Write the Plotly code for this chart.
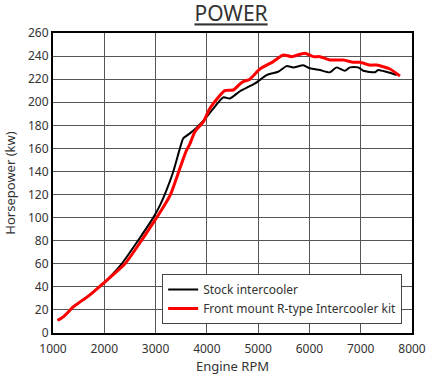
import plotly.graph_objects as go

rpm_stock = [1090, 1200, 1400, 1530, 1690, 1980, 2340, 2657, 2955, 3090, 3215, 3346, 3475, 3540, 3670, 3800, 3930, 4130, 4320, 4450, 4645, 4940, 5165, 5390, 5555, 5685, 5880, 6010, 6205, 6400, 6530, 6690, 6790, 6950, 7050, 7280, 7340, 7500, 7700]
kw_stock = [11, 14, 22.8, 27, 32, 43, 60, 80, 100, 111, 124, 140, 160, 168.7, 173, 178, 183.7, 194.7, 204.2, 203.3, 209.5, 216.3, 223.5, 226.4, 231.3, 230.2, 232, 229.4, 227.9, 225.9, 230.2, 227.3, 230.2, 230.2, 227.3, 226, 228, 226.4, 223.5]

rpm_front = [1090, 1200, 1400, 1530, 1690, 1980, 2403, 2723, 3020, 3150, 3290, 3430, 3590, 3670, 3768, 3930, 4060, 4350, 4515, 4645, 4710, 4840, 5035, 5295, 5490, 5650, 5910, 6075, 6205, 6400, 6660, 6855, 6985, 7180, 7310, 7570, 7765]
kw_front = [11, 14, 22.8, 27, 32, 43, 60, 80, 100, 109, 120, 137, 157, 164, 174.5, 183, 194.7, 210, 210.6, 215.8, 217.8, 220, 228.8, 235.2, 241, 239.5, 242.5, 239.5, 239.5, 236.6, 236.6, 234.6, 234.6, 232.2, 232.2, 228.8, 222.7]

x_ticks = [1000, 2000, 3000, 4000, 5000, 6000, 7000, 8000]
y_ticks = list(range(0, 261, 20))

FONT = "Noto Sans"

fig = go.Figure()
fig.add_trace(go.Scatter(x=rpm_stock, y=kw_stock, mode="lines", name="Stock intercooler",
                         line=dict(color="black", width=2, shape="spline", smoothing=0.6)))
fig.add_trace(go.Scatter(x=rpm_front, y=kw_front, mode="lines", name="Front mount R-type Intercooler kit",
                         line=dict(color="#ff0000", width=3, shape="spline", smoothing=0.6)))

fig.update_layout(
    width=430, height=379,
    margin=dict(l=53, r=18, t=33, b=46),
    paper_bgcolor="white", plot_bgcolor="white",
    font=dict(family=FONT, size=12, color="#333"),
    title=dict(text="<u>POWER</u>", xref="paper", x=0.496, xanchor="center", y=0.963, yanchor="middle",
               font=dict(family=FONT, size=21, color="#333")),
    xaxis=dict(range=[1000, 8000], tickvals=x_ticks, showgrid=True, gridcolor="#555", gridwidth=1,
               showline=True, linecolor="black", linewidth=2, mirror=True, ticks="",
               zeroline=False, automargin=False, ticklabelstandoff=4,
               title=dict(text="Engine RPM", font=dict(family=FONT, size=13, color="#333"), standoff=4),
               tickfont=dict(size=12, color="#333")),
    yaxis=dict(range=[0, 260], tickvals=y_ticks, showgrid=True, gridcolor="#555", gridwidth=1,
               showline=True, linecolor="black", linewidth=2, mirror=True, ticks="",
               zeroline=False, automargin=False,
               title=dict(text="Horsepower (kw)", font=dict(family=FONT, size=13, color="#333"), standoff=9),
               tickfont=dict(size=12, color="#333")),
    legend=dict(x=0.304, y=0.113, xanchor="left", yanchor="middle", bgcolor="white",
                bordercolor="#444", borderwidth=1, font=dict(family=FONT, size=12),
                tracegroupgap=0, itemwidth=30),
    showlegend=True,
)
fig.write_html("out.html", config={"displayModeBar": False},
               post_script="document.body.style.margin='0';document.body.style.overflow='hidden';")
